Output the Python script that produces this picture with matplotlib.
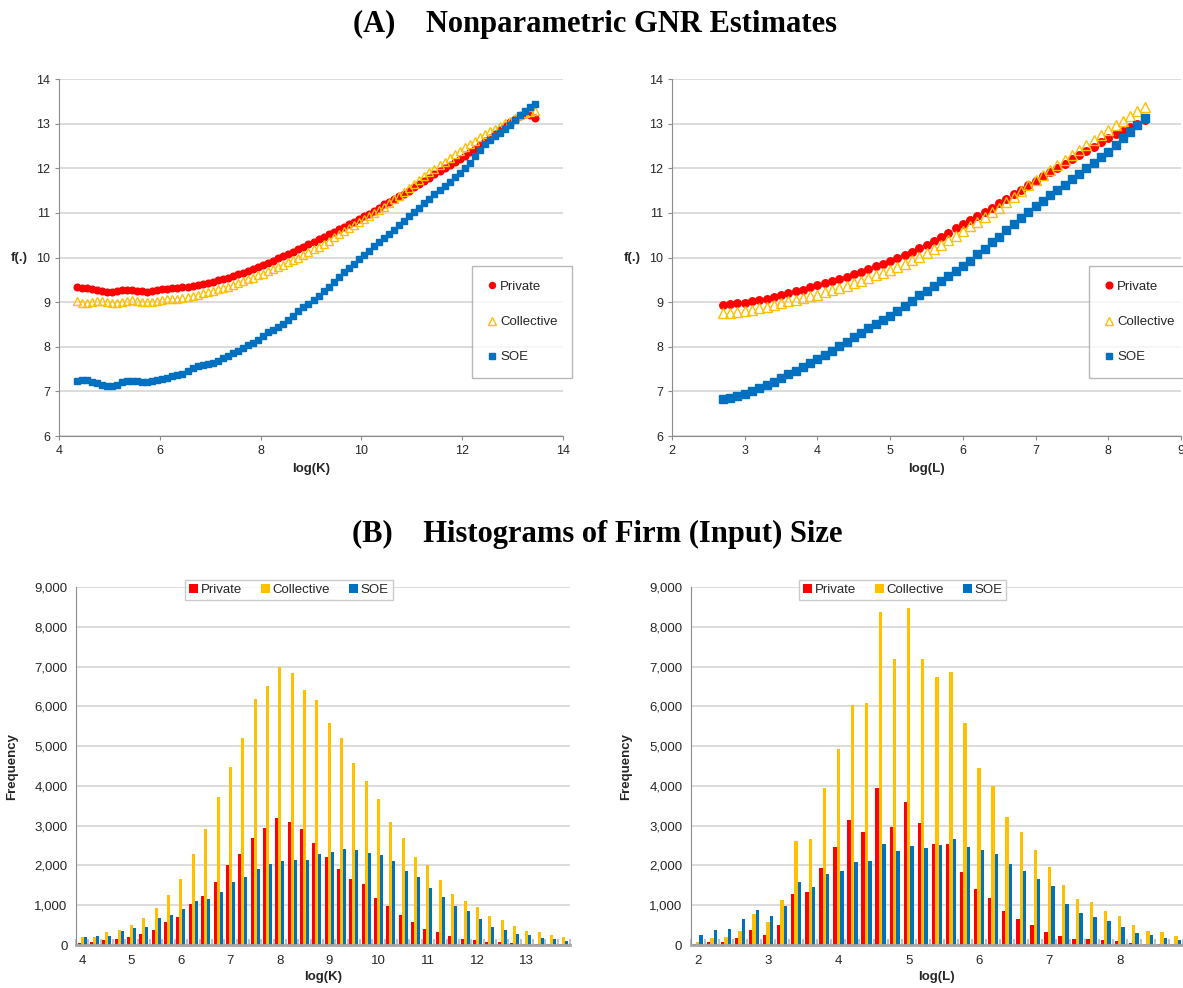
import numpy as np
import matplotlib
matplotlib.use("Agg")
import matplotlib.pyplot as plt
from matplotlib.ticker import FuncFormatter

plt.rcParams['font.family'] = ['Liberation Sans', 'DejaVu Sans']

RED = '#ff0000'
GOLD = '#ffc000'
BLUE = '#0070c0'
GRID = '#d9d9d9'
AXC = '#8c8c8c'
TXT = '#262626'

series_names = ['Private', 'Collective', 'SOE']

# ---- panel A: GNR estimates, evaluated on a 0.1 grid ----
k_start, k_step = 4.35, 0.1
private_k = [9.33, 9.32, 9.31, 9.29, 9.27, 9.25, 9.23, 9.22, 9.25, 9.27,
             9.28, 9.27, 9.26, 9.24, 9.23, 9.24, 9.27, 9.29, 9.30, 9.31,
             9.32, 9.33, 9.35, 9.37, 9.39, 9.41, 9.43, 9.46, 9.49, 9.52,
             9.55, 9.58, 9.62, 9.66, 9.70, 9.74, 9.78, 9.83, 9.88, 9.93,
             9.98, 10.03, 10.08, 10.13, 10.19, 10.24, 10.30, 10.35, 10.41, 10.46,
             10.52, 10.57, 10.63, 10.68, 10.74, 10.80, 10.86, 10.92, 10.98, 11.05,
             11.12, 11.19, 11.25, 11.31, 11.37, 11.43, 11.50, 11.57, 11.64, 11.72,
             11.79, 11.86, 11.93, 12.00, 12.07, 12.13, 12.20, 12.28, 12.36, 12.44,
             12.52, 12.60, 12.68, 12.76, 12.85, 12.94, 13.03, 13.11, 13.17, 13.21,
             13.19, 13.12]
collective_k = [9.02, 8.99, 8.98, 9.01, 9.03, 9.02, 9.00, 8.99, 8.98, 9.00,
                9.03, 9.04, 9.03, 9.01, 9.00, 9.01, 9.03, 9.05, 9.06, 9.07,
                9.08, 9.10, 9.12, 9.14, 9.17, 9.20, 9.23, 9.26, 9.29, 9.32,
                9.35, 9.39, 9.43, 9.47, 9.51, 9.55, 9.60, 9.64, 9.69, 9.74,
                9.79, 9.84, 9.89, 9.94, 10.00, 10.06, 10.12, 10.18, 10.24, 10.31,
                10.38, 10.45, 10.52, 10.59, 10.66, 10.72, 10.79, 10.86, 10.93, 11.00,
                11.07, 11.14, 11.22, 11.30, 11.38, 11.46, 11.55, 11.64, 11.73, 11.82,
                11.91, 11.99, 12.07, 12.15, 12.23, 12.31, 12.39, 12.47, 12.55, 12.62,
                12.69, 12.76, 12.83, 12.89, 12.95, 13.01, 13.07, 13.13, 13.19, 13.24,
                13.27, 13.29]
soe_k = [7.24, 7.26, 7.25, 7.22, 7.18, 7.15, 7.12, 7.12, 7.15, 7.20,
         7.24, 7.24, 7.23, 7.22, 7.22, 7.23, 7.25, 7.28, 7.31, 7.34,
         7.36, 7.40, 7.46, 7.52, 7.57, 7.59, 7.61, 7.64, 7.69, 7.74,
         7.80, 7.85, 7.91, 7.98, 8.04, 8.08, 8.15, 8.24, 8.32, 8.38,
         8.44, 8.50, 8.60, 8.70, 8.80, 8.88, 8.96, 9.04, 9.14, 9.24,
         9.34, 9.44, 9.56, 9.67, 9.76, 9.86, 9.96, 10.06, 10.15, 10.25,
         10.34, 10.43, 10.52, 10.62, 10.72, 10.82, 10.92, 11.02, 11.12, 11.22,
         11.32, 11.42, 11.52, 11.61, 11.70, 11.80, 11.90, 12.00, 12.12, 12.27,
         12.42, 12.55, 12.64, 12.72, 12.79, 12.87, 12.97, 13.08, 13.19, 13.29,
         13.37, 13.44]

l_start, l_step = 2.7, 0.1
private_l = [8.93, 8.95, 8.97, 8.99, 9.02, 9.05, 9.08, 9.12, 9.16, 9.20,
             9.24, 9.28, 9.33, 9.38, 9.42, 9.47, 9.52, 9.57, 9.62, 9.68,
             9.74, 9.80, 9.86, 9.92, 9.99, 10.06, 10.13, 10.21, 10.29, 10.38,
             10.47, 10.56, 10.65, 10.75, 10.84, 10.93, 11.03, 11.12, 11.22, 11.32,
             11.42, 11.52, 11.62, 11.72, 11.82, 11.91, 12.01, 12.10, 12.20, 12.29,
             12.39, 12.48, 12.58, 12.67, 12.76, 12.84, 12.92, 13.00, 13.08]
collective_l = [8.75, 8.76, 8.78, 8.80, 8.83, 8.86, 8.90, 8.94, 8.98, 9.02,
                9.05, 9.09, 9.13, 9.17, 9.22, 9.27, 9.32, 9.37, 9.42, 9.48,
                9.54, 9.60, 9.66, 9.72, 9.79, 9.86, 9.94, 10.02, 10.10, 10.19,
                10.29, 10.39, 10.49, 10.60, 10.70, 10.80, 10.91, 11.01, 11.12, 11.24,
                11.36, 11.49, 11.62, 11.74, 11.85, 11.96, 12.07, 12.19, 12.30, 12.41,
                12.52, 12.63, 12.75, 12.86, 12.97, 13.07, 13.17, 13.28, 13.38]
soe_l = [6.82, 6.85, 6.89, 6.95, 7.01, 7.08, 7.15, 7.22, 7.30, 7.38,
         7.46, 7.55, 7.63, 7.72, 7.81, 7.91, 8.01, 8.11, 8.22, 8.31,
         8.41, 8.51, 8.60, 8.70, 8.81, 8.92, 9.03, 9.15, 9.26, 9.37,
         9.48, 9.58, 9.69, 9.80, 9.93, 10.07, 10.20, 10.34, 10.47, 10.61,
         10.75, 10.88, 11.02, 11.15, 11.27, 11.39, 11.51, 11.63, 11.75, 11.87,
         12.00, 12.12, 12.25, 12.37, 12.52, 12.67, 12.82, 12.97, 13.12]

# ---- panel B: histograms (bins of 0.25 for log K, 0.2 for log L) ----
hist_k_labels = ['4', '5', '6', '7', '8', '9', '10', '11', '12', '13']
hist_k_private = [60, 80, 125, 160, 190, 270, 380, 580, 700, 1040,
                  1235, 1580, 2015, 2290, 2700, 2930, 3190, 3090, 2920, 2560,
                  2200, 1920, 1650, 1530, 1190, 980, 765, 590, 410, 320,
                  235, 150, 125, 75, 75, 40, 25, 25, 20, 15]
hist_k_collective = [190, 210, 335, 370, 500, 690, 930, 1260, 1660, 2290,
                     2920, 3725, 4480, 5210, 6190, 6520, 6990, 6850, 6400, 6170,
                     5580, 5210, 4580, 4130, 3660, 3100, 2680, 2200, 2000, 1645,
                     1290, 1110, 965, 730, 620, 485, 360, 330, 245, 190]
hist_k_soe = [190, 235, 235, 350, 430, 460, 690, 755, 905, 1110,
              1150, 1320, 1580, 1710, 1910, 2040, 2120, 2130, 2130, 2300,
              2330, 2415, 2390, 2315, 2265, 2120, 1860, 1710, 1435, 1200,
              980, 855, 655, 445, 375, 275, 260, 185, 150, 110]

hist_l_labels = ['2', '3', '4', '5', '6', '7', '8']
hist_l_private = [25, 65, 65, 175, 370, 250, 495, 1285, 1335, 1930,
                  2460, 3155, 2845, 3945, 2970, 3600, 3060, 2540, 2540, 1840,
                  1410, 1185, 855, 655, 505, 330, 235, 150, 140, 125,
                  100, 60, 25, 25, 25]
hist_l_collective = [65, 185, 210, 360, 780, 590, 1140, 2625, 2660, 3935,
                     4935, 6040, 6080, 8370, 7190, 8475, 7180, 6735, 6855, 5570,
                     4440, 3985, 3230, 2835, 2380, 1965, 1510, 1150, 1090, 855,
                     730, 495, 360, 320, 225]
hist_l_soe = [245, 370, 395, 645, 880, 730, 980, 1575, 1450, 1780,
              1860, 2080, 2105, 2535, 2365, 2490, 2450, 2510, 2675, 2465,
              2390, 2280, 2040, 1855, 1670, 1485, 1040, 815, 705, 605,
              445, 310, 245, 185, 125]

fig = plt.figure(figsize=(11.83, 9.88), dpi=100)
W, H = 1183.0, 988.0


def box(l, t, r, b):
    return [l / W, 1 - b / H, (r - l) / W, (b - t) / H]


def style_axes(ax):
    for s in ['top', 'right']:
        ax.spines[s].set_visible(False)
    for s in ['left', 'bottom']:
        ax.spines[s].set_color(AXC)
    ax.tick_params(colors=AXC, labelcolor=TXT, labelsize=9, length=3)
    ax.yaxis.grid(True, color=GRID, lw=1.3)
    ax.set_axisbelow(True)


def gnr_panel(ax, start, step, ys, xlim, xticks, xlabel, msize):
    xs = [start + step * i for i in range(len(ys[0]))]
    ax.plot(xs, ys[0], 'o', ms=msize[0], color=RED, mec=RED, label=series_names[0])
    ax.plot(xs, ys[1], '^', ms=msize[1], mfc='none', mec=GOLD, mew=1.0,
            label=series_names[1])
    ax.plot(xs, ys[2], 's', ms=msize[2], color=BLUE, mec=BLUE, label=series_names[2])
    ax.set_xlim(*xlim)
    ax.set_ylim(6, 14)
    ax.set_xticks(xticks)
    ax.set_yticks(range(6, 15))
    style_axes(ax)
    ax.set_xlabel(xlabel, fontweight='bold', fontsize=9.5, color=TXT, labelpad=4)
    ax.set_ylabel('f(.)', fontweight='bold', fontsize=9.5, color=TXT, rotation=0,
                  va='center', ha='center')
    ax.yaxis.set_label_coords(-0.079, 0.5)
    leg = ax.legend(loc='upper left', bbox_to_anchor=(0.819, 0.476), fontsize=9.5,
                    frameon=True, fancybox=False, edgecolor='#a6a6a6',
                    borderpad=1.1, labelspacing=1.75, handlelength=0.8,
                    handletextpad=0.25, borderaxespad=0, markerscale=0.9)
    leg.get_frame().set_linewidth(1.0)
    for t in leg.get_texts():
        t.set_color(TXT)


ax1 = fig.add_axes(box(59, 79, 563, 436))
gnr_panel(ax1, k_start, k_step, [private_k, collective_k, soe_k], (4, 14),
          range(4, 15, 2), 'log(K)', (4.8, 6.2, 4.6))

ax2 = fig.add_axes(box(672, 79, 1181, 436))
gnr_panel(ax2, l_start, l_step, [private_l, collective_l, soe_l], (2, 9),
          range(2, 10), 'log(L)', (5.4, 6.8, 5.2))


def hist_panel(ax, vals, labels, per_unit, xlabel):
    n = len(vals[0])
    pos = np.arange(n)
    w = 0.243
    for off, v, c, name in zip([-w, 0, w], vals, [RED, GOLD, BLUE], series_names):
        ax.bar(pos + off, v, w, color=c, label=name, linewidth=0)
    ax.set_xlim(-0.5, n - 0.5)
    ax.set_ylim(0, 9000)
    ax.set_yticks(range(0, 9001, 1000))
    ax.yaxis.set_major_formatter(FuncFormatter(lambda v, p: f'{int(v):,}'))
    ax.set_xticks(pos[::per_unit])
    ax.set_xticklabels(labels)
    ax.set_xticks(np.arange(-0.5, n, 1), minor=True)
    style_axes(ax)
    ax.spines['bottom'].set_color('#a6a6a6')
    ax.spines['bottom'].set_linewidth(2)
    ax.tick_params(axis='x', which='major', length=0, pad=7, labelsize=9.5)
    ax.tick_params(axis='x', which='minor', direction='in', length=4, width=1.2,
                   color='#b3b3b3')
    ax.tick_params(axis='y', length=0, labelsize=9.5, pad=6)
    ax.set_xlabel(xlabel, fontweight='bold', fontsize=9.5, color=TXT, labelpad=3)
    ax.set_ylabel('Frequency', fontweight='bold', fontsize=9.5, color=TXT)
    ax.yaxis.set_label_coords(-0.118, 0.5)
    leg = ax.legend(loc='center', bbox_to_anchor=(0.431, 0.991), ncol=3, fontsize=9.5,
                    frameon=True, fancybox=False, edgecolor='#bfbfbf',
                    borderpad=0.3, columnspacing=1.4, handlelength=0.7,
                    handleheight=0.7, handletextpad=0.2, borderaxespad=0)
    leg.get_frame().set_linewidth(1.0)
    for t in leg.get_texts():
        t.set_color(TXT)


ax3 = fig.add_axes(box(76, 587, 570, 945))
hist_panel(ax3, [hist_k_private, hist_k_collective, hist_k_soe], hist_k_labels, 4, 'log(K)')

ax4 = fig.add_axes(box(690.7, 587, 1183, 945))
hist_panel(ax4, [hist_l_private, hist_l_collective, hist_l_soe], hist_l_labels, 5, 'log(L)')

fig.text(0.503, 1 - 24 / H, '(A)    Nonparametric GNR Estimates', ha='center', va='center',
         fontsize=22, fontweight='bold', family='Liberation Serif')
fig.text(0.505, 1 - 534 / H, '(B)    Histograms of Firm (Input) Size', ha='center',
         va='center', fontsize=22, fontweight='bold', family='Liberation Serif')

fig.savefig('out.png', dpi=100)
